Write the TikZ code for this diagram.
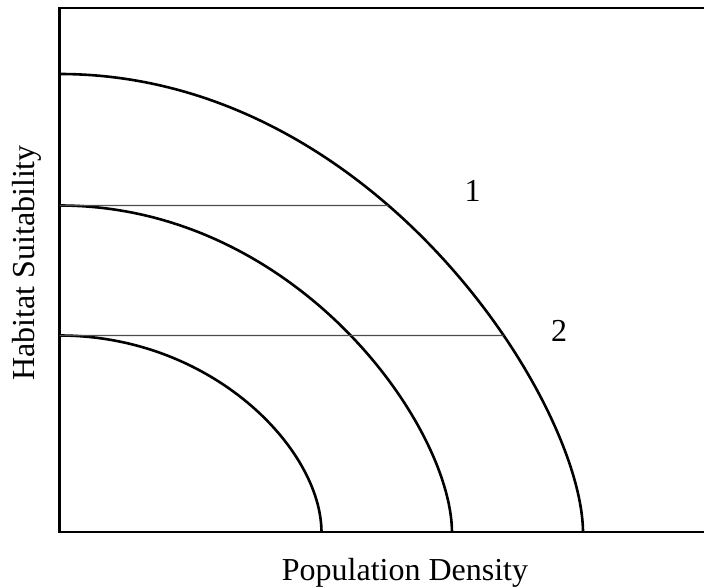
\documentclass[tikz,border=0pt]{standalone}
\usepackage{fontspec}
\setmainfont{Liberation Serif}
\usetikzlibrary{intersections}
\begin{document}
\begin{tikzpicture}[x=1pt,y=-1pt,
  axisline/.style={line width=2.2pt,black},
  curveline/.style={line width=2.6pt,black},
  levelline/.style={line width=1.3pt,black!70},
  lbl/.style={font=\fontsize{32}{36}\selectfont,inner sep=0pt}]
\useasboundingbox (0,0) rectangle (704,588);
% axes
\coordinate (tl) at (59.5,8);
\coordinate (tr) at (704,8);
\coordinate (org) at (59.5,532);
\coordinate (br) at (704,532);
\draw[axisline] (tr) -- (tl) -- (org) -- (br);
% curve end points
\coordinate (otop) at (59.5,74);
\coordinate (obot) at (583,532);
\coordinate (mtop) at (59.5,205.5);
\coordinate (mbot) at (452,532);
\coordinate (itop) at (59.5,335.5);
\coordinate (ibot) at (321.5,532);
% curves
\draw[curveline,name path=outer] (otop) .. controls (373.6,74) and (582,401.5) .. (obot);
\draw[curveline,name path=middle] (mtop) .. controls (294.7,205.5) and (451,424) .. (mbot);
\draw[curveline,name path=inner] (itop) .. controls (211,335.5) and (321,448) .. (ibot);
% level lines
\path[name path=h1] (mtop) -- ++(640,0);
\path[name path=h2] (itop) -- ++(640,0);
\path[name intersections={of=outer and h1,by=e1}];
\path[name intersections={of=outer and h2,by=e2}];
\draw[levelline] (mtop) -- (e1);
\draw[levelline] (itop) -- (e2);
% labels
\node[lbl] (n1) at (472.5,191) {1};
\node[lbl] (n2) at (559,331) {2};
\node[lbl,rotate=90] (ylab) at (27,263) {Habitat Suitability};
\node[lbl,anchor=base] (xlab) at (405,580) {Population Density};
\end{tikzpicture}
\end{document}
